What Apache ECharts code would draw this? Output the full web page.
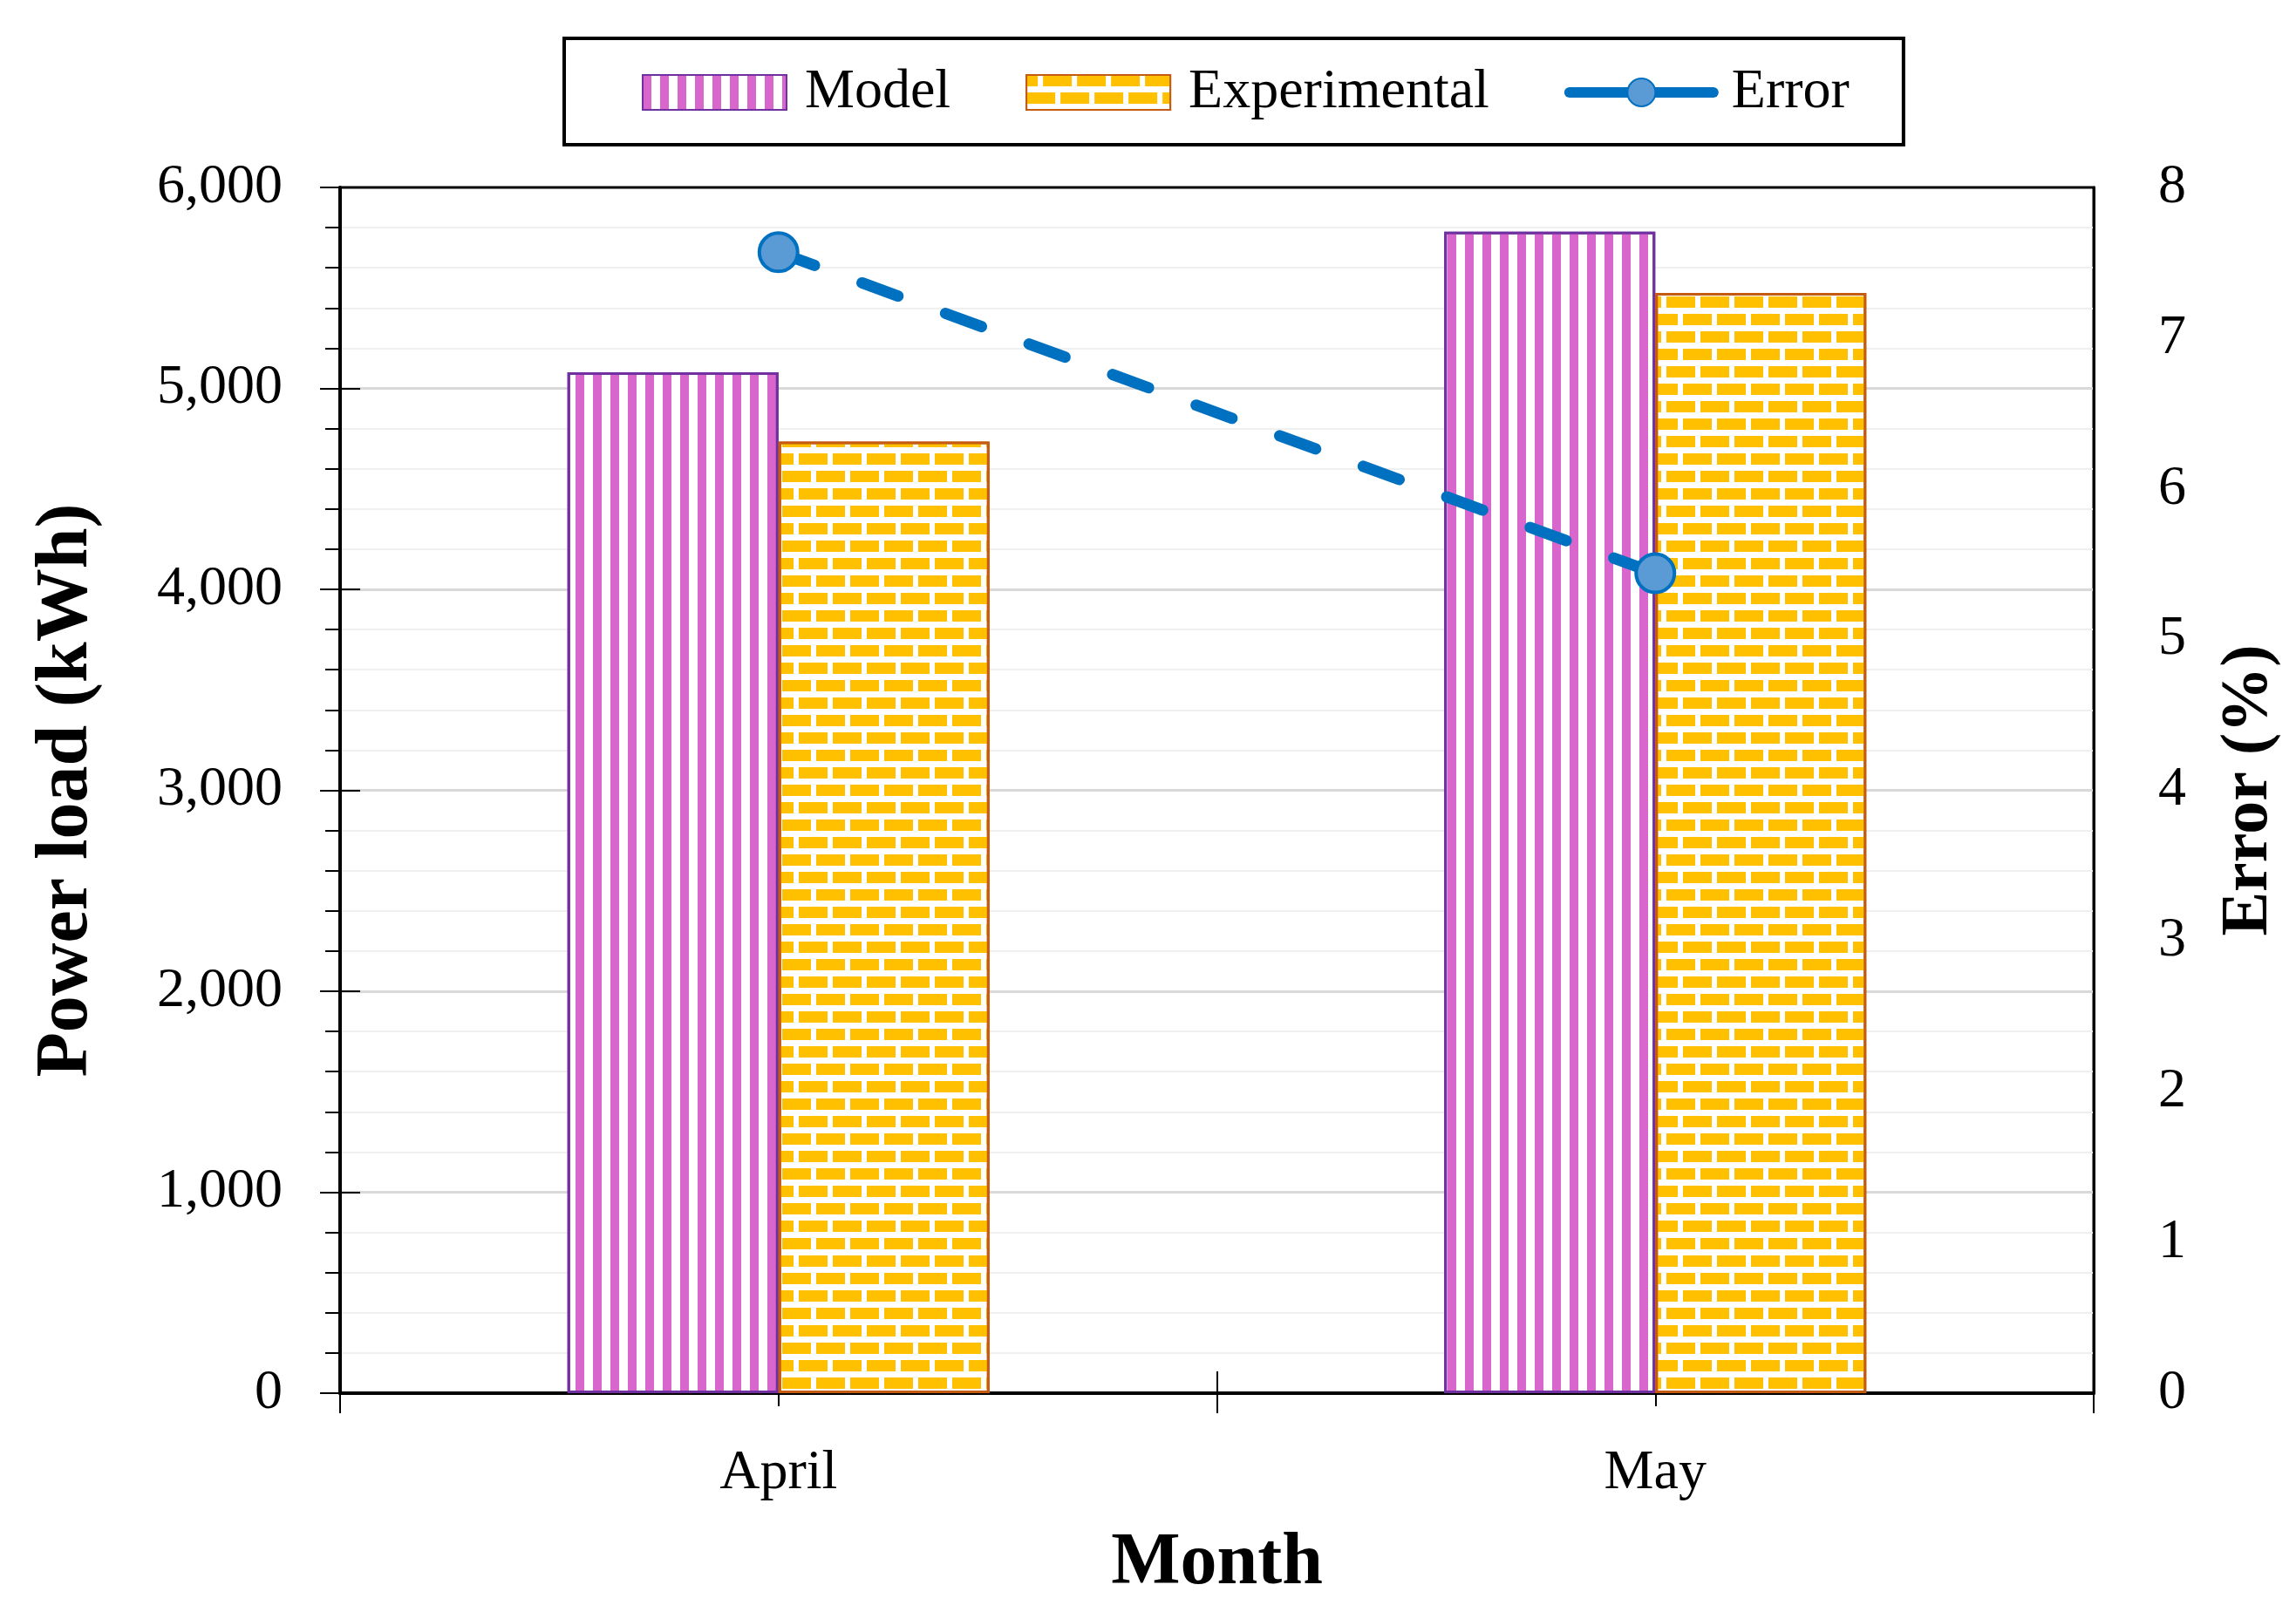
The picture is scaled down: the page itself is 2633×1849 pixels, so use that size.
<!DOCTYPE html>
<html>
<head>
<meta charset="utf-8">
<script src="https://cdn.jsdelivr.net/npm/echarts@6/dist/echarts.min.js"></script>
<style>
html, body { margin: 0; padding: 0; background: #fff; }
#chart { width: 2633px; height: 1849px; }
</style>
</head>
<body>
<div id="chart"></div>
<script>
const categories = ['April', 'May'];
const modelValues = [5080, 5780];
const experimentalValues = [4735, 5475];
const errorValues = [7.57, 5.44];
const leftTicks = { min: 0, max: 6000, interval: 1000 };
const rightTicks = { min: 0, max: 8, interval: 1 };

const FONT = 'Liberation Serif';
const chart = echarts.init(document.getElementById('chart'));

const option = {
  backgroundColor: '#ffffff',
  animation: false,
  textStyle: { fontFamily: FONT, color: '#000' },
  grid: {
    left: 390, right: 232, top: 215, bottom: 251,
    show: true, borderColor: '#000', borderWidth: 3, backgroundColor: 'transparent'
  },
  legend: {
    left: 647, top: 44,
    padding: [30, 62, 28, 89],
    borderColor: '#000', borderWidth: 4,
    itemWidth: 165, itemHeight: 40, itemGap: 86,
    textStyle: { fontFamily: FONT, fontSize: 64, color: '#000', padding: [0, 0, 0, 16] },
    data: [
      { name: 'Model', icon: 'rect' },
      { name: 'Experimental', icon: 'rect' },
      { name: 'Error', lineStyle: { type: 'solid', width: 12, cap: 'round' } }
    ]
  },
  xAxis: [
    {
      type: 'category', data: categories, position: 'bottom',
      name: 'Month', nameLocation: 'middle', nameGap: 154,
      nameTextStyle: { fontFamily: FONT, fontSize: 84, fontWeight: 'bold', color: '#000' },
      axisLine: { show: true, lineStyle: { color: '#000', width: 4 } },
      axisTick: { show: true, interval: 0, length: 23, lineStyle: { color: '#000', width: 2 } },
      axisLabel: { fontFamily: FONT, fontSize: 64, color: '#000', margin: 60 },
      splitLine: { show: false }
    },
    {
      type: 'category', data: categories, position: 'bottom',
      axisLine: { show: false },
      axisTick: { show: true, inside: true, interval: 0, length: 25, lineStyle: { color: '#000', width: 2 } },
      axisLabel: { show: false },
      splitLine: { show: false }
    },
    {
      type: 'category', data: categories, position: 'bottom',
      axisLine: { show: false },
      axisTick: { show: true, alignWithLabel: true, interval: 0, length: 15, lineStyle: { color: '#000', width: 2 } },
      axisLabel: { show: false },
      splitLine: { show: false }
    }
  ],
  yAxis: [
    {
      type: 'value', position: 'left',
      min: leftTicks.min, max: leftTicks.max, interval: leftTicks.interval,
      name: 'Power load (kWh)', nameLocation: 'middle', nameGap: 271, nameRotate: 90,
      nameTextStyle: { fontFamily: FONT, fontSize: 84, fontWeight: 'bold', color: '#000' },
      axisLine: { show: true, lineStyle: { color: '#000', width: 4 } },
      axisTick: { show: true, length: 23, lineStyle: { color: '#000', width: 2 } },
      minorTick: { show: true, splitNumber: 5, length: 17, lineStyle: { color: '#000', width: 2 } },
      axisLabel: {
        fontFamily: FONT, fontSize: 64, color: '#000', margin: 66,
        formatter: v => v.toLocaleString('en-US')
      },
      splitLine: { show: true, showMinLine: false, showMaxLine: false, lineStyle: { color: '#D9D9D9', width: 3 } },
      minorSplitLine: { show: true, lineStyle: { color: '#F0F0F0', width: 2 } }
    },
    {
      type: 'value', position: 'right',
      min: rightTicks.min, max: rightTicks.max, interval: rightTicks.interval,
      name: 'Error (%)', nameLocation: 'middle', nameGap: 140, nameRotate: 90,
      nameTextStyle: { fontFamily: FONT, fontSize: 76, fontWeight: 'bold', color: '#000' },
      axisLine: { show: true, lineStyle: { color: '#000', width: 3 } },
      axisTick: { show: false },
      axisLabel: { fontFamily: FONT, fontSize: 64, color: '#000', margin: 74 },
      splitLine: { show: false }
    },
    {
      type: 'value', position: 'left',
      min: leftTicks.min, max: leftTicks.max, interval: leftTicks.interval,
      axisLine: { show: false },
      axisTick: { show: true, inside: true, length: 23, lineStyle: { color: '#000', width: 2 } },
      axisLabel: { show: false },
      splitLine: { show: false }
    }
  ],
  series: [
    {
      name: 'Model', type: 'bar', xAxisIndex: 0, yAxisIndex: 0,
      data: modelValues,
      barWidth: '24.07%', barGap: '0%',
      itemStyle: {
        color: '#ffffff', borderColor: '#7030A0', borderWidth: 3,
        decal: {
          symbol: 'rect', symbolSize: 1, symbolKeepAspect: false,
          color: '#D966CC', dashArrayX: [10, 10], dashArrayY: [20, 0]
        }
      },
      z: 2
    },
    {
      name: 'Experimental', type: 'bar', xAxisIndex: 0, yAxisIndex: 0,
      data: experimentalValues,
      barWidth: '24.07%', barGap: '0%',
      itemStyle: {
        color: '#ffffff', borderColor: '#C55A11', borderWidth: 3,
        decal: {
          symbol: 'rect', symbolSize: 1, symbolKeepAspect: false,
          color: '#FFC000', dashArrayX: [[33, 6], [13, 6, 20, 0]], dashArrayY: [13, 7]
        }
      },
      z: 2
    },
    {
      name: 'Error', type: 'line', xAxisIndex: 0, yAxisIndex: 1,
      data: errorValues,
      symbol: 'circle', symbolSize: 44,
      lineStyle: { color: '#0070C0', width: 13, type: [44, 58], cap: 'round' },
      itemStyle: { color: '#5B9BD5', borderColor: '#0070C0', borderWidth: 4 },
      z: 5
    }
  ]
};
chart.setOption(option);
</script>
</body>
</html>
